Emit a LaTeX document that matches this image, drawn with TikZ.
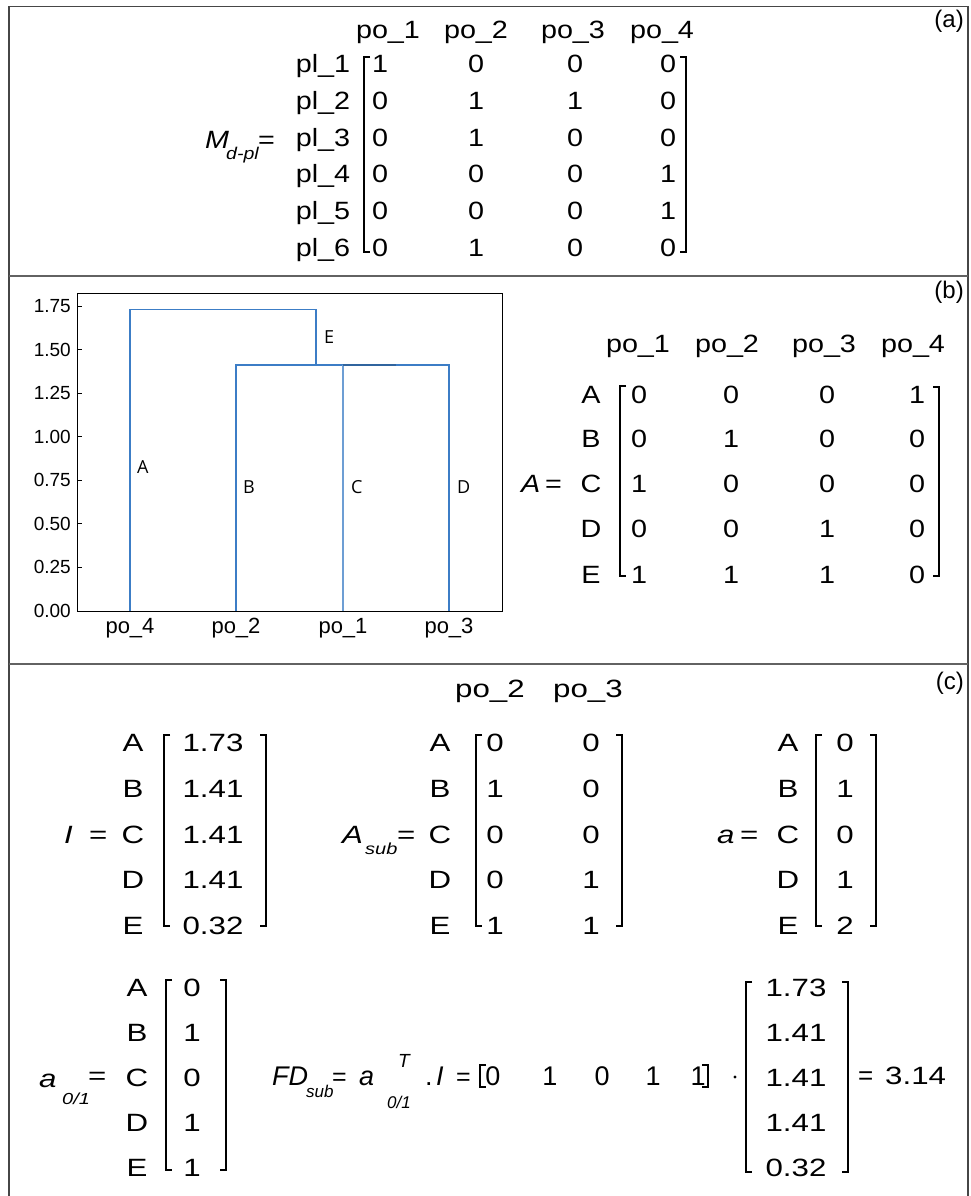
\documentclass[tikz,border=0pt]{standalone}
\usepackage{fontspec}
\setmainfont{Liberation Sans}
\newfontfamily\osans{Open Sans}
\newfontfamily\fa[FakeStretch=1.15]{Liberation Sans}
\newfontfamily\fc[FakeStretch=1.25]{Liberation Sans}
\newcommand\fsz[1]{\fontsize{#1}{#1}\selectfont}
\definecolor{dendblue}{RGB}{60,125,198}
\definecolor{framegray}{RGB}{70,70,70}
\begin{document}
\begin{tikzpicture}[x=1pt,y=-1pt,
  tx/.style={inner sep=0pt,anchor=base,font=\fa\fsz{25}},
  txb/.style={inner sep=0pt,anchor=base,font=\fa\fsz{25}},
  txc/.style={inner sep=0pt,anchor=base,font=\fc\fsz{25}},
  txw/.style={inner sep=0pt,anchor=base west},
  suba/.style={inner sep=0pt,anchor=base west,font=\fa\fsz{17}\itshape},
  subc/.style={inner sep=0pt,anchor=base west,font=\fc\fsz{16}\itshape},
  subn/.style={inner sep=0pt,anchor=base west,font=\fsz{17}\itshape},
  plab/.style={inner sep=0pt,anchor=base east,font=\fsz{24}},
  brk/.style={line width=2.8pt,black},
  brka/.style={line width=1.8pt,black},
  dend/.style={line width=1.1pt,dendblue},
  tick/.style={inner sep=0pt,anchor=east,font=\fsz{19}},
  dl/.style={inner sep=0pt,anchor=base west,font=\osans\fsz{18}},
  frame/.style={line width=1.6pt,framegray},
  divline/.style={line width=1.6pt,framegray!85}]
\useasboundingbox (0,0) rectangle (970,1196);
\fill[white] (0,0) rectangle (970,1196);
% frame
\draw[frame] (9,1200) -- (9,6.5) -- (968,6.5) -- (968,1200);
\draw[divline] (9,276) -- (968,276);
\draw[divline] (9,664) -- (968,664);
\node[plab] (la) at (964,28) {(a)};
\node[plab] (lb) at (964,298) {(b)};
\node[plab] (lc) at (964,689) {(c)};
% ---------- panel (a)
\foreach \t/\x in {1/388,2/476,3/573,4/662} \node[tx] (ah\t) at (\x,39) {po\_\t};
\foreach \r/\y/\va/\vb/\vc/\vd in {1/73/1/0/0/0,2/109.6/0/1/1/0,3/146.2/0/1/0/0,4/182.8/0/0/0/1,5/219.4/0/0/0/1,6/256/0/1/0/0}{
  \node[tx] (ar\r) at (323,\y) {pl\_\r};
  \node[tx] (a\r c1) at (380,\y) {\va};
  \node[tx] (a\r c2) at (476,\y) {\vb};
  \node[tx] (a\r c3) at (575,\y) {\vc};
  \node[tx] (a\r c4) at (668,\y) {\vd};
}
\draw[brka] (370,57) -- (364,57) -- (364,252) -- (370,252);
\draw[brka] (680,57) -- (686,57) -- (686,252) -- (680,252);
\node[txw,font=\fa\fsz{25}\itshape] (aM) at (205,148) {M};
\node[suba] (aMs) at (226,160) {d-pl};
\node[txw,font=\fa\fsz{25}] (aMe) at (258,148) {=};
% ---------- panel (b) dendrogram
\draw[line width=1pt] (77,293) rectangle (502,611);
\foreach \v/\lab in {0/0.00,1/0.25,2/0.50,3/0.75,4/1.00,5/1.25,6/1.50,7/1.75}{
  \draw[line width=1pt] (77,611-\v*43.57) -- (82,611-\v*43.57);
  \node[tick] (tk\v) at (71,611-\v*43.57) {\lab};
}
\foreach \t/\x in {4/130,2/236,1/343,3/449} \node[inner sep=0pt,anchor=base,font=\fsz{22}] (dx\t) at (\x,633) {po\_\t};
\draw[dend] (130,611) -- (130,309.5) -- (316,309.5) -- (316,365);
\draw[dend] (236,611) -- (236,365) -- (449,365) -- (449,611);
\draw[dend,line width=1.8pt,dendblue!75] (343,611) -- (343,365);
\draw[dend,line width=1.6pt,dendblue!80!black] (343,365) -- (396,365);
\node[dl] (dA) at (137,473) {A};
\node[dl] (dB) at (243,493) {B};
\node[dl] (dC) at (351,493) {C};
\node[dl] (dD) at (457,493) {D};
\node[dl] (dE) at (324,343) {E};
% ---------- panel (b) matrix
\foreach \t/\x in {1/638,2/727,3/824,4/913} \node[txb] (bh\t) at (\x,352) {po\_\t};
\foreach \r/\y/\va/\vb/\vc/\vd in {A/403.5/0/0/0/1,B/447.5/0/1/0/0,C/492.5/1/0/0/0,D/537.5/0/0/1/0,E/583.5/1/1/1/0}{
  \node[txb] (br\r) at (591,\y) {\r};
  \node[txb] (b\r c1) at (639,\y) {\va};
  \node[txb] (b\r c2) at (731,\y) {\vb};
  \node[txb] (b\r c3) at (827,\y) {\vc};
  \node[txb] (b\r c4) at (917,\y) {\vd};
}
\draw[brk] (626,386) -- (620,386) -- (620,576) -- (626,576);
\draw[brk] (933,387) -- (939,387) -- (939,576) -- (933,576);
\node[txw,font=\fa\fsz{25}\itshape] (bA) at (521,492.5) {A};
\node[txw,font=\fa\fsz{25}] (bAe) at (545,492.5) {=};
% ---------- panel (c) first row
\node[txc] (ch2) at (490,697) {po\_2};
\node[txc] (ch3) at (588,697) {po\_3};
\foreach \r/\y/\vi/\sa/\sb/\va in {A/751.5/1.73/0/0/0,B/797.5/1.41/1/0/1,C/843/1.41/0/0/0,D/888.5/1.41/0/1/1,E/934/0.32/1/1/2}{
  \node[txc] (ci\r) at (133,\y) {\r};
  \node[txc] (civ\r) at (213,\y) {\vi};
  \node[txc] (cs\r) at (440,\y) {\r};
  \node[txc] (cs\r 1) at (495,\y) {\sa};
  \node[txc] (cs\r 2) at (591,\y) {\sb};
  \node[txc] (ca\r) at (788,\y) {\r};
  \node[txc] (cav\r) at (845,\y) {\va};
}
\draw[brk] (170,735) -- (164,735) -- (164,926) -- (170,926);
\draw[brk] (260,735) -- (266,735) -- (266,926) -- (260,926);
\draw[brk] (482,735) -- (476,735) -- (476,926) -- (482,926);
\draw[brk] (616,735) -- (622,735) -- (622,926) -- (616,926);
\draw[brk] (822,735) -- (816,735) -- (816,926) -- (822,926);
\draw[brk] (870,735) -- (876,735) -- (876,926) -- (870,926);
\node[txw,font=\fc\fsz{25}\itshape] (cI) at (64,843) {I};
\node[txw,font=\fc\fsz{25}] (cIe) at (89,843) {=};
\node[txw,font=\fc\fsz{25}\itshape] (cAs) at (342,843) {A};
\node[subc] (cAss) at (365,854) {sub};
\node[txw,font=\fc\fsz{25}] (cAse) at (397,843) {=};
\node[txw,font=\fc\fsz{25}\itshape] (ca) at (717,843) {a};
\node[txw,font=\fc\fsz{25}] (cae) at (740,843) {=};
% ---------- panel (c) second row
\foreach \r/\y/\v/\w in {A/996.5/0/1.73,B/1041.5/1/1.41,C/1086.5/0/1.41,D/1131.5/1/1.41,E/1176.5/1/0.32}{
  \node[txc] (co\r) at (137,\y) {\r};
  \node[txc] (cov\r) at (192,\y) {\v};
  \node[txc] (cw\r) at (796,\y) {\w};
}
\draw[brk] (172,980) -- (166,980) -- (166,1170) -- (172,1170);
\draw[brk] (220,980) -- (226,980) -- (226,1170) -- (220,1170);
\draw[brk] (752,982) -- (746,982) -- (746,1172) -- (752,1172);
\draw[brk] (842,982) -- (848,982) -- (848,1172) -- (842,1172);
\node[txw,font=\fc\fsz{25}\itshape] (co) at (39,1087) {a};
\node[subc] (cos) at (62,1104) {0/1};
\node[txw,font=\fc\fsz{25}] (coe) at (88,1084) {=};
\node[txw,font=\fsz{27}\itshape] (cFD) at (272,1085) {FD};
\node[subn] (cFDs) at (306,1097) {sub};
\node[txw,font=\fsz{25}] (cFDe) at (332,1085) {=};
\node[txw,font=\fsz{27}\itshape] (cfa) at (359,1085) {a};
\node[txw,font=\fsz{19}\itshape] (cfT) at (398,1067) {T};
\node[subn] (cfas) at (387,1108) {0/1};
\node[txw,font=\fsz{27}] (cfdot) at (425,1085) {.};
\node[txw,font=\fsz{27}\itshape] (cfI) at (436,1085) {I};
\node[txw,font=\fsz{25}] (cfe) at (456,1085) {=};
\foreach \v/\x [count=\i] in {0/493,1/550,0/602,1/653,1/698} \node[inner sep=0pt,anchor=base,font=\fsz{27}] (rv\i) at (\x,1085) {\v};
\draw[line width=1.7pt] (486,1065) -- (480,1065) -- (480,1087) -- (486,1087);
\draw[line width=1.7pt] (702,1065) -- (708,1065) -- (708,1087) -- (702,1087);
\fill (735,1077) circle (1.6);
\node[txw,font=\fsz{26}] (cre) at (858,1084) {=};
\node[txw,font=\fc\fsz{25}] (cres) at (885,1084) {3.14};
\end{tikzpicture}
\end{document}
